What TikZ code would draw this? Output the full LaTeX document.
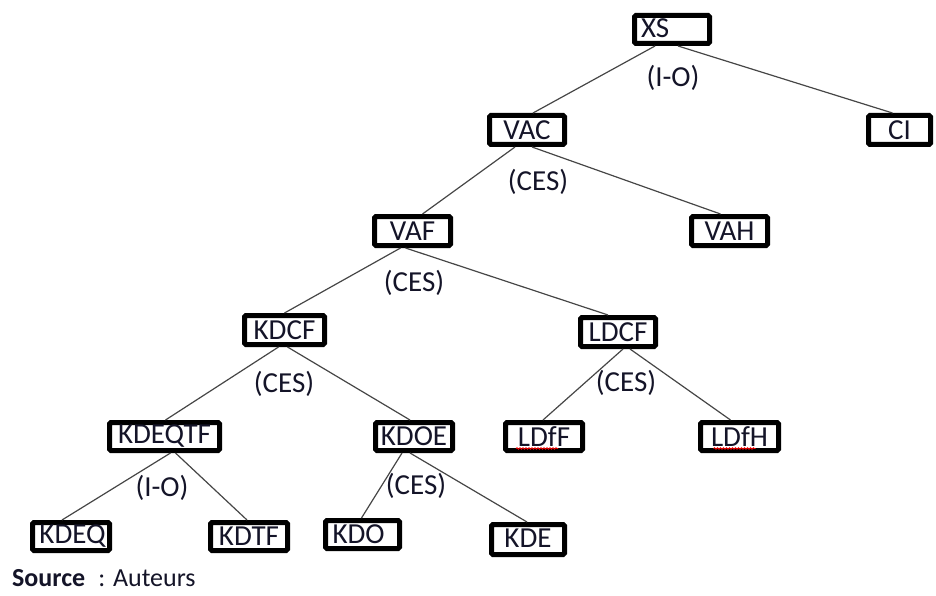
\documentclass[tikz,border=0pt]{standalone}
\usepackage{fontspec}
\setmainfont{Carlito}
\usetikzlibrary{decorations.pathmorphing}
\definecolor{txt}{RGB}{20,20,40}
\definecolor{edgec}{RGB}{70,70,70}
\tikzset{
  box/.style={draw=black, line width=5pt, rounded corners=1.5pt, fill=white, inner sep=0pt, text=txt, font=\fontsize{29}{29}\selectfont},
  edge/.style={draw=edgec, line width=1.2pt},
  lab/.style={text=txt, font=\fontsize{29}{29}\selectfont, inner sep=0pt},
  squig/.style={draw=red, line width=0.8pt, decorate, decoration={snake, amplitude=0.8pt, segment length=3pt}}
}
\begin{document}
\begin{tikzpicture}[x=1pt,y=-1pt]
\useasboundingbox (0,0) rectangle (936,596);
% nodes
\node[box, minimum width=75pt, minimum height=28pt] (xs) at (672,29.5) {\raisebox{3pt}{\makebox[62pt][l]{XS}}};
\node[box, minimum width=62pt, minimum height=29pt] (ci) at (899.5,130) {CI};
\node[box, minimum width=75pt, minimum height=29pt] (vac) at (527,130) {VAC};
\node[box, minimum width=76pt, minimum height=29pt] (vaf) at (412.5,231) {VAF};
\node[box, minimum width=76pt, minimum height=29pt] (vah) at (729.5,231) {VAH};
\node[box, minimum width=80pt, minimum height=29pt] (kdcf) at (284.5,330) {KDCF};
\node[box, minimum width=75pt, minimum height=29pt] (ldcf) at (618,332) {LDCF};
\node[box, minimum width=110pt, minimum height=28pt] (kdeqtf) at (164.5,436.5) {KDEQTF};
\node[box, minimum width=77pt, minimum height=28pt] (kdoe) at (414,436.5) {KDOE};
\node[box, minimum width=77pt, minimum height=28pt] (ldff) at (544,436.5) {LDfF};
\node[box, minimum width=78pt, minimum height=28pt] (ldfh) at (739.5,436.5) {LDfH};
\node[box, minimum width=77pt, minimum height=28pt] (kdeq) at (71,536.5) {\hspace*{3pt}KDEQ};
\node[box, minimum width=77pt, minimum height=28pt] (kdtf) at (249,536.5) {KDTF};
\node[box, minimum width=74pt, minimum height=28pt] (kdo) at (362.5,534.5) {\makebox[60pt][l]{KDO}};
\node[box, minimum width=73pt, minimum height=30pt] (kde) at (528,539.5) {\raisebox{3pt}{KDE}};
% edges
\draw[edge] ([xshift=-17pt]xs.south) -- ([xshift=6pt]vac.north);
\draw[edge] ([xshift=6pt]xs.south) -- ([xshift=-7pt]ci.north);
\draw[edge] ([xshift=-12pt]vac.south) -- ([xshift=10pt]vaf.north);
\draw[edge] ([xshift=5pt]vac.south) -- ([xshift=-9pt]vah.north);
\draw[edge] ([xshift=-12pt]vaf.south) -- ([xshift=0pt]kdcf.north);
\draw[edge] ([xshift=-7pt]vaf.south) -- ([xshift=-10pt]ldcf.north);
\draw[edge] ([xshift=-6pt]kdcf.south) -- ([xshift=1pt]kdeqtf.north);
\draw[edge] ([xshift=3pt]kdcf.south) -- ([xshift=-4pt]kdoe.north);
\draw[edge] ([xshift=5pt]ldcf.south) -- ([xshift=-1pt]ldff.north);
\draw[edge] ([xshift=12pt]ldcf.south) -- ([xshift=-9pt]ldfh.north);
\draw[edge] ([xshift=6pt]kdeqtf.south) -- ([xshift=-9pt]kdeq.north);
\draw[edge] ([xshift=11pt]kdeqtf.south) -- ([xshift=-2pt]kdtf.north);
\draw[edge] ([xshift=-12pt]kdoe.south) -- ([xshift=-1pt]kdo.north);
\draw[edge] ([xshift=-4pt]kdoe.south) -- ([xshift=-1pt]kde.north);
% labels
\node[lab] (l1) at (673,78) {(I-O)};
\node[lab] (l2) at (538,182) {(CES)};
\node[lab] (l3) at (414,283) {(CES)};
\node[lab] (l4) at (284,384) {(CES)};
\node[lab] (l5) at (626,383) {(CES)};
\node[lab] (l6) at (162,488) {(I-O)};
\node[lab] (l7) at (416,486) {(CES)};
\node[lab, anchor=west, font=\fontsize{26}{26}\selectfont] (src) at (12,578) {\textbf{Source}\enspace: Auteurs};
% spell-check squiggles
\draw[squig] ([xshift=-28pt,yshift=-12pt]ldff.center) -- ([xshift=14pt,yshift=-12pt]ldff.center);
\draw[squig] ([xshift=-26pt,yshift=-12pt]ldfh.center) -- ([xshift=16pt,yshift=-12pt]ldfh.center);
\end{tikzpicture}
\end{document}
